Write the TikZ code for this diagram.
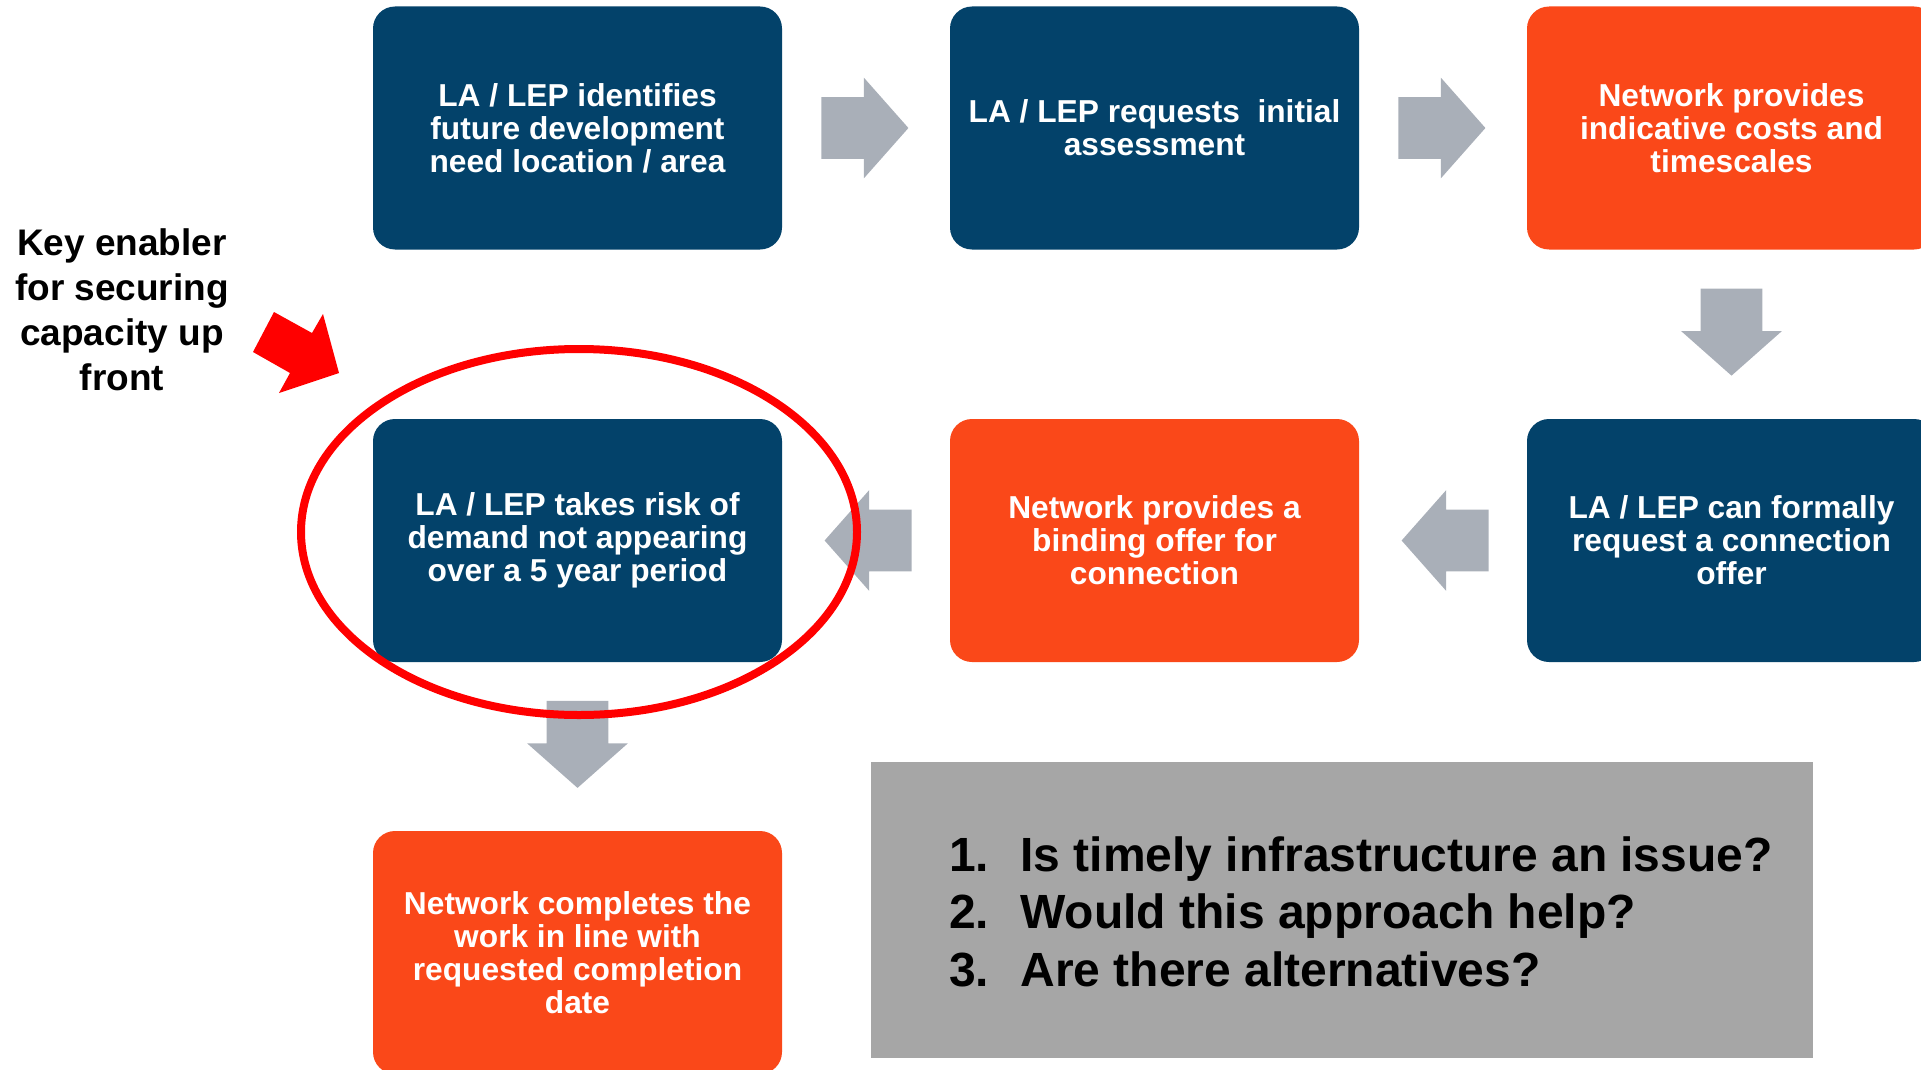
\documentclass[tikz,border=0pt]{standalone}
\usepackage{fontspec}
\setmainfont{Liberation Sans}
\usetikzlibrary{shapes.arrows,calc}

\definecolor{lanavy}{HTML}{03426A}
\definecolor{netorange}{HTML}{FA4819}
\definecolor{arrowgrey}{HTML}{A9AFB8}
\definecolor{askgrey}{HTML}{A6A6A6}
\definecolor{keyred}{HTML}{FF0000}

\tikzset{
  stage/.style={rounded corners=11pt, minimum width=204.5pt, minimum height=121.5pt,
    inner sep=0pt, text=white, align=center,
    font=\bfseries\fontsize{15.85}{16.5}\selectfont},
  lastage/.style={stage, fill=lanavy},
  netstage/.style={stage, fill=netorange},
  flowarrow/.style={single arrow, fill=arrowgrey, inner xsep=0pt, inner ysep=15.25pt,
    minimum height=43.5pt, minimum width=50pt, anchor=tail,
    single arrow head extend=9.75pt, single arrow tip angle=97},
  keytext/.style={align=center, font=\bfseries\fontsize{18.5}{22.5}\selectfont},
  askbox/.style={fill=askgrey, minimum width=471pt, minimum height=148pt, inner sep=0pt},
  asktext/.style={inner sep=0pt, font=\bfseries\fontsize{24}{28.75}\selectfont},
}

\begin{document}
\begin{tikzpicture}[x=0.5pt,y=-0.5pt]
\useasboundingbox (0,0) rectangle (1921,1070);
\clip (0,0) rectangle (1921,1070);

\coordinate (ring) at (579,532);

% top row
\node[lastage] (b1) at (577.5,128) {LA / LEP identifies\\future development\\need location / area};
\node[lastage] (b2) at (1154.5,128) {LA / LEP requests~ initial\\assessment};
\node[netstage] (b3) at (1731.5,128) {Network provides\\indicative costs and\\timescales};

% middle row
\node[lastage] (b4) at (577.5,540.5) {LA / LEP takes risk of\\demand not appearing\\over a 5 year period};
\node[netstage] (b5) at (1154.5,540.5) {Network provides a\\binding offer for\\connection};
\node[lastage] (b6) at (1731.5,540.5) {LA / LEP can formally\\request a connection\\offer};

% bottom row
\node[netstage] (b7) at (577.5,952.5) {Network completes the\\work in line with\\requested completion\\date};

% flow arrows (placed by their tails)
\node[flowarrow] (a12) at ($(b1.east)!0.5!(b2.west)+(-45,0)$) {};
\node[flowarrow] (a23) at ($(b2.east)!0.5!(b3.west)+(-45,0)$) {};
\node[flowarrow, rotate=-90] (a36) at ($(b3.south)!0.5!(b6.north)+(0,-46)$) {};
\node[flowarrow, rotate=180] (a65) at ($(b6.west)!0.5!(b5.east)+(46,0)$) {};
\node[flowarrow, rotate=180] (a54) at ($(b5.west)!0.5!(b4.east)+(46,0)$) {};
\node[flowarrow, rotate=-90] (a47) at ($(b4.south)!0.5!(b7.north)+(0,-46)$) {};

% questions
\node[askbox] (asks) at (1342,910) {};
\node[asktext, anchor=west] (askq) at ([xshift=39pt,yshift=-3.5pt]asks.west) {%
  \begin{tabular}{@{}p{35.75pt}@{}l@{}}
  1. & Is timely infrastructure an issue?\\
  2. & Would this approach help?\\
  3. & Are there alternatives?
  \end{tabular}};

% key enabler
\draw[keyred, line width=4pt] (ring) ellipse [x radius=139pt, y radius=91.5pt];
\fill[keyred] (274,312) -- (312,333) -- (323,314) -- (339,373) -- (279,393) -- (290,373) -- (253,352) -- cycle;
\node[keytext] (key) at (122,310) {Key enabler\\for securing\\capacity up\\front};
\end{tikzpicture}
\end{document}
